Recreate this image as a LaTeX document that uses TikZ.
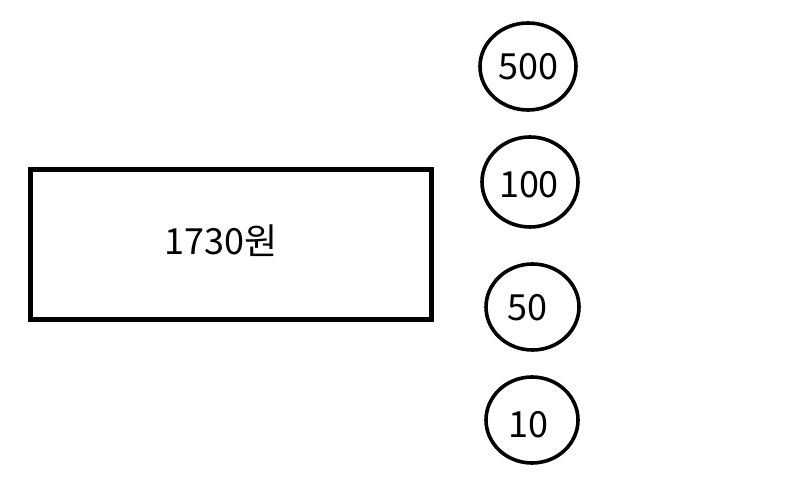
\documentclass[tikz,border=0pt]{standalone}
\usepackage{fontspec}
\setmainfont{Noto Sans CJK KR}
\usetikzlibrary{shapes.geometric}
\begin{document}
\begin{tikzpicture}[x=1pt,y=-1pt,
  box/.style={draw=black,line width=5pt,minimum width=401pt,minimum height=150pt,inner sep=0pt},
  coin/.style={draw=black,line width=3.6pt,ellipse,inner sep=0pt},
  lbl/.style={font=\fontsize{36}{40}\selectfont}]
\fill[white] (0,0) rectangle (789,502);
\useasboundingbox (0,0) rectangle (789,502);
\node[box] (total) at (231,244.5) {};
\node[lbl] (totaltxt) at (221,241) {1730원};
\node[coin,minimum width=96pt,minimum height=87pt] (c500) at (528,66.5) {};
\node[lbl] (t500) at (528.5,67) {500};
\node[coin,minimum width=96pt,minimum height=90pt] (c100) at (530,182) {};
\node[lbl] (t100) at (529,185) {100};
\node[coin,minimum width=93pt,minimum height=86pt] (c50) at (532.5,307) {};
\node[lbl] (t50) at (527.5,308) {50};
\node[coin,minimum width=92pt,minimum height=86pt] (c10) at (532,420) {};
\node[lbl] (t10) at (528,425) {10};
\end{tikzpicture}
\end{document}
